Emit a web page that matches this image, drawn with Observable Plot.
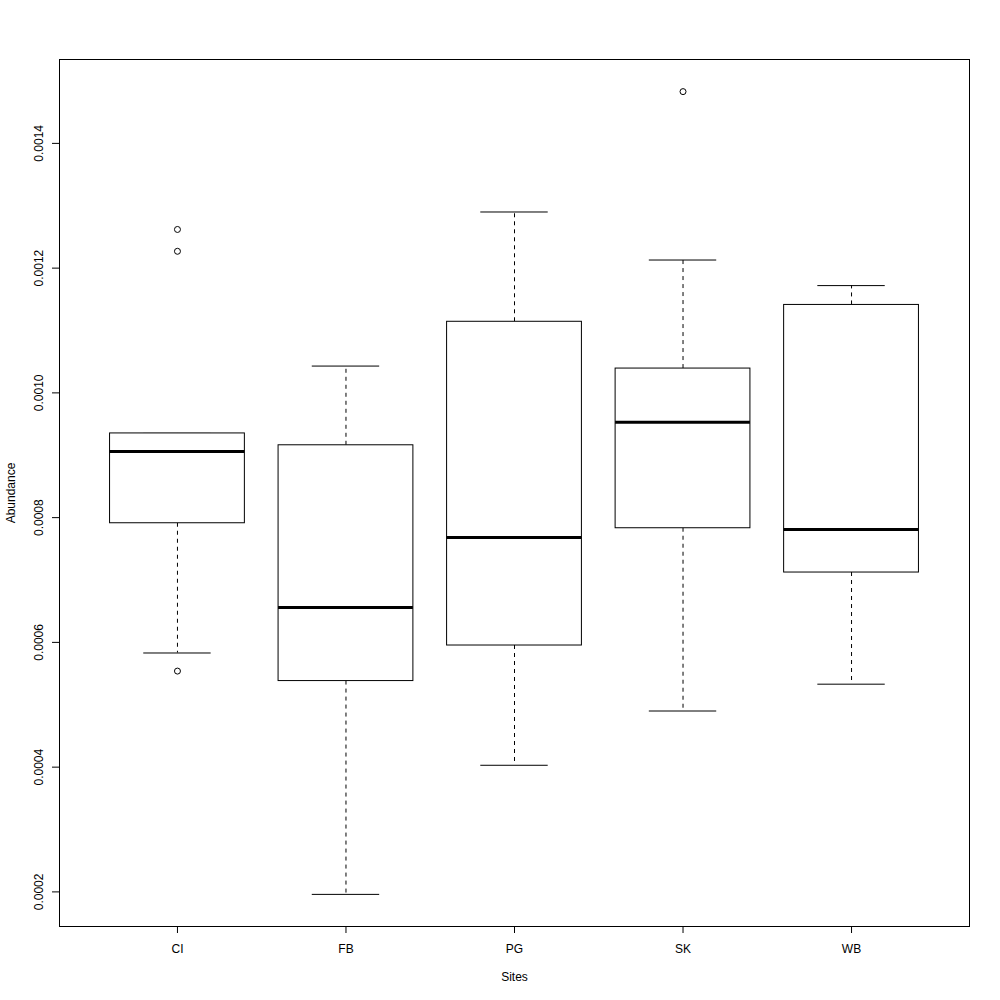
<!DOCTYPE html>
<html>
<head>
<meta charset="utf-8">
<script src="https://cdn.jsdelivr.net/npm/d3@7"></script>
<script src="https://cdn.jsdelivr.net/npm/@observablehq/plot@0.6"></script>
<style>
  html, body { margin: 0; padding: 0; background: white; }
  #chart { width: 1000px; height: 1000px; }
</style>
</head>
<body>
<div id="chart"></div>
<script>
const sites = ["CI", "FB", "PG", "SK", "WB"];
const lowerWhisker = [0.000583, 0.000196, 0.000403, 0.000490, 0.000533];
const q1Values     = [0.000791, 0.000538, 0.000595, 0.000783, 0.000712];
const medianValues = [0.000906, 0.000656, 0.000768, 0.000953, 0.000781];
const q3Values     = [0.000935, 0.000916, 0.001114, 0.001039, 0.001141];
const upperWhisker = [0.000935, 0.001043, 0.001290, 0.001213, 0.001172];
const outlierSites  = ["CI", "CI", "CI", "SK"];
const outlierValues = [0.001262, 0.001227, 0.000554, 0.001483];
const yTicks = [0.0002, 0.0004, 0.0006, 0.0008, 0.0010, 0.0012, 0.0014];

const boxes = sites.map((s, i) => ({
  site: s, pos: i + 1,
  lo: lowerWhisker[i], q1: q1Values[i], med: medianValues[i], q3: q3Values[i], hi: upperWhisker[i]
}));
const outliers = outlierSites.map((s, i) => ({ pos: sites.indexOf(s) + 1, value: outlierValues[i] }));

const allVals = [...lowerWhisker, ...upperWhisker, ...outlierValues];
const vmin = d3.min(allVals), vmax = d3.max(allVals);
const pad = (vmax - vmin) * 0.04;
const n = sites.length;
const xpad = n * 0.04;

const chart = Plot.plot({
  width: 1000,
  height: 1000,
  marginLeft: 59,
  marginRight: 31,
  marginTop: 59,
  marginBottom: 74,
  style: { fontFamily: "'Liberation Sans', Arial, Helvetica, sans-serif", fontSize: "12px", background: "white", color: "black" },
  x: { type: "linear", domain: [0.5 - xpad, n + 0.5 + xpad], label: null },
  y: { domain: [vmin - pad, vmax + pad], label: null },
  marks: [
    // whiskers (dashed)
    Plot.ruleX(boxes, { x: "pos", y1: "q3", y2: "hi", stroke: "black", strokeDasharray: "4,4" }),
    Plot.ruleX(boxes, { x: "pos", y1: "q1", y2: "lo", stroke: "black", strokeDasharray: "4,4" }),
    // whisker caps
    Plot.ruleY(boxes, { y: "hi", x1: d => d.pos - 0.2, x2: d => d.pos + 0.2, stroke: "black" }),
    Plot.ruleY(boxes, { y: "lo", x1: d => d.pos - 0.2, x2: d => d.pos + 0.2, stroke: "black" }),
    // boxes
    Plot.rect(boxes, { x1: d => d.pos - 0.4, x2: d => d.pos + 0.4, y1: "q1", y2: "q3", fill: "white", stroke: "black" }),
    // medians
    Plot.ruleY(boxes, { y: "med", x1: d => d.pos - 0.4, x2: d => d.pos + 0.4, stroke: "black", strokeWidth: 3 }),
    // outliers
    Plot.dot(outliers, { x: "pos", y: "value", r: 3, stroke: "black", fill: "none", strokeWidth: 1 }),
    // frame
    Plot.frame({ stroke: "black" }),
    // x axis
    Plot.axisX({ ticks: sites.map((s, i) => i + 1), tickFormat: v => sites[Math.round(v) - 1], tickSize: 7, tickPadding: 11, fontSize: 12, label: null }),
    // y axis ticks
    Plot.axisY({ ticks: yTicks, tickSize: 7, tickFormat: () => "", label: null }),
    // y tick labels rotated
    Plot.text(yTicks, { y: d => d, frameAnchor: "left", dx: -20, rotate: -90, text: d => d3.format(".4f")(d), textAnchor: "middle", lineAnchor: "middle", fontSize: 12 }),
    // axis titles
    Plot.text(["Abundance"], { frameAnchor: "left", dx: -48, rotate: -90, text: d => d, textAnchor: "middle", lineAnchor: "middle", fontSize: 12 }),
    Plot.text(["Sites"], { frameAnchor: "bottom", dy: 51, text: d => d, textAnchor: "middle", lineAnchor: "middle", fontSize: 12 })
  ]
});
document.getElementById("chart").appendChild(chart);
</script>
</body>
</html>
